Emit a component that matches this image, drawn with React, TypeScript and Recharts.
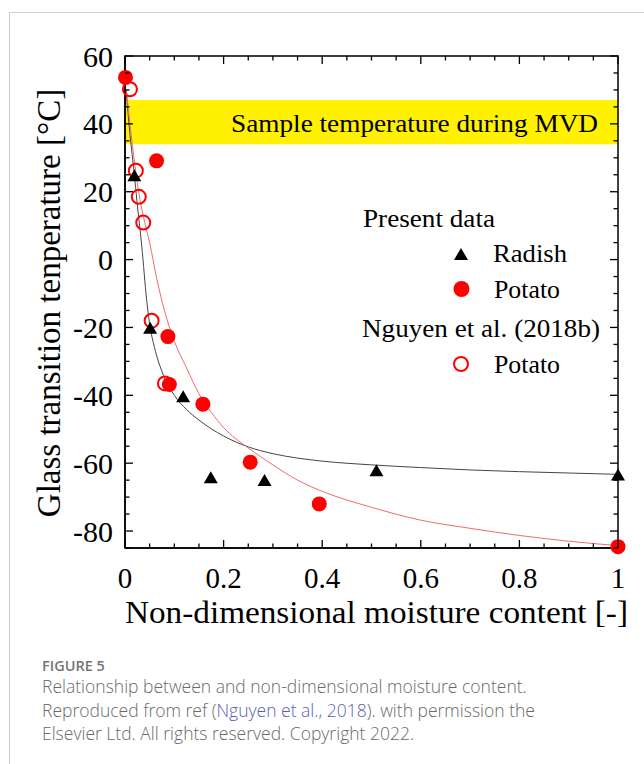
import React from 'react';
import { ComposedChart, XAxis, YAxis, Line, Scatter, ReferenceArea } from 'recharts';

// ---- tick values ----
const xMajorTicks = [0, 0.2, 0.4, 0.6, 0.8, 1];
const xMinorTicks = [0, 0.05, 0.1, 0.15, 0.2, 0.25, 0.3, 0.35, 0.4, 0.45, 0.5, 0.55, 0.6, 0.65, 0.7, 0.75, 0.8, 0.85, 0.9, 0.95, 1];
const yMajorTicks = [-80, -60, -40, -20, 0, 20, 40, 60];
const yMinorTicks = [-85, -80, -75, -70, -65, -60, -55, -50, -45, -40, -35, -30, -25, -20, -15, -10, -5, 0, 5, 10, 15, 20, 25, 30, 35, 40, 45, 50, 55, 60];

// ---- band ----
const bandLow = 34;
const bandHigh = 47;

// ---- data ----
const radish = [
  { x: 0.019, y: 24.7 }, { x: 0.051, y: -20.2 }, { x: 0.118, y: -40.4 }, { x: 0.174, y: -64.3 },
  { x: 0.283, y: -65.1 }, { x: 0.51, y: -62.2 }, { x: 1.0, y: -63.5 },
];
const potatoPresent = [
  { x: 0.001, y: 53.7 }, { x: 0.064, y: 29.1 }, { x: 0.087, y: -22.7 }, { x: 0.09, y: -36.8 },
  { x: 0.158, y: -42.6 }, { x: 0.254, y: -59.7 }, { x: 0.394, y: -72.0 }, { x: 1.0, y: -84.6 },
];
const potatoNguyen = [
  { x: 0.01, y: 50.2 }, { x: 0.022, y: 26.2 }, { x: 0.028, y: 18.5 }, { x: 0.037, y: 10.9 },
  { x: 0.054, y: -18.0 }, { x: 0.081, y: -36.5 },
];
const radishFit = [
  { x: 0.002, y: 50 }, { x: 0.01, y: 37 }, { x: 0.019, y: 25 }, { x: 0.024, y: 17.5 }, { x: 0.034, y: 4 },
  { x: 0.044, y: -12 }, { x: 0.05, y: -19 }, { x: 0.06, y: -26 }, { x: 0.075, y: -33 }, { x: 0.1, y: -40 },
  { x: 0.125, y: -44.2 }, { x: 0.15, y: -47.3 }, { x: 0.2, y: -52 }, { x: 0.25, y: -55.2 }, { x: 0.3, y: -57.2 },
  { x: 0.35, y: -58.5 }, { x: 0.4, y: -59.4 }, { x: 0.5, y: -60.5 }, { x: 0.6, y: -61.3 }, { x: 0.7, y: -62 },
  { x: 0.8, y: -62.5 }, { x: 0.9, y: -62.9 }, { x: 1.0, y: -63.3 },
];
const potatoFit = [
  { x: 0.003, y: 50 }, { x: 0.01, y: 40 }, { x: 0.02, y: 28 }, { x: 0.03, y: 18 }, { x: 0.04, y: 11 },
  { x: 0.05, y: 5 }, { x: 0.065, y: -6 }, { x: 0.08, y: -15 }, { x: 0.1, y: -24 }, { x: 0.125, y: -32 },
  { x: 0.15, y: -39.5 }, { x: 0.175, y: -45 }, { x: 0.2, y: -49.5 }, { x: 0.25, y: -55.5 }, { x: 0.3, y: -60.5 },
  { x: 0.35, y: -65 }, { x: 0.4, y: -68.3 }, { x: 0.5, y: -73 }, { x: 0.6, y: -76.8 }, { x: 0.7, y: -79.2 },
  { x: 0.8, y: -81.3 }, { x: 0.9, y: -83 }, { x: 1.0, y: -84.3 },
];

// ---- layout ----
const W = 644;
const H = 764;
const PLOT_LEFT = 125;
const PLOT_TOP = 56;
const PLOT_W = 493;
const PLOT_H = 492;
const Y_AXIS_W = 60;
const X_AXIS_H = 40;
const SERIF = '"Liberation Serif", "Times New Roman", Times, serif';
const SANS = '"Open Sans", "Noto Sans", sans-serif';
const RED = '#fe0000';

const isMajor = (v: number, list: number[]) => list.some((t) => Math.abs(t - v) < 1e-9);

function XTick(props: any) {
  const { x, y, payload } = props;
  const v = payload.value;
  const major = isMajor(v, xMajorTicks);
  const len = major ? 8 : 4.5;
  return (
    <g>
      <line x1={x} y1={y} x2={x} y2={y - len} stroke="#000" strokeWidth={1.3} />
      <line x1={x} y1={y - PLOT_H} x2={x} y2={y - PLOT_H + len} stroke="#000" strokeWidth={1.3} />
      {major && (
        <text x={x} y={y + 40} textAnchor="middle" fontSize={29} fontFamily={SERIF} fill="#000">
          {String(v)}
        </text>
      )}
    </g>
  );
}

function YTick(props: any) {
  const { x, y, payload } = props;
  const v = payload.value;
  const major = isMajor(v, yMajorTicks);
  const len = major ? 8 : 4.5;
  return (
    <g>
      <line x1={x} y1={y} x2={x + len} y2={y} stroke="#000" strokeWidth={1.3} />
      <line x1={x + PLOT_W} y1={y} x2={x + PLOT_W - len} y2={y} stroke="#000" strokeWidth={1.3} />
      {major && (
        <text x={x - 12} y={y + 10.5} textAnchor="end" fontSize={30} fontFamily={SERIF} fill="#000">
          {String(v)}
        </text>
      )}
    </g>
  );
}

const TriangleShape = (p: any) => (
  <polygon
    points={`${p.cx},${p.cy - 6.5} ${p.cx - 7},${p.cy + 5.5} ${p.cx + 7},${p.cy + 5.5}`}
    fill="#000"
  />
);
const FilledCircle = (p: any) => <circle cx={p.cx} cy={p.cy} r={7.5} fill={RED} />;
const OpenCircle = (p: any) => <circle cx={p.cx} cy={p.cy} r={7} fill="none" stroke={RED} strokeWidth={2} />;

export default function App() {
  return (
    <div style={{ position: 'absolute', left: 0, top: 0, width: W, height: H, background: '#fff', overflow: 'hidden' }}>
      {/* frame */}
      <div style={{ position: 'absolute', left: 9, top: 12, width: W - 9, height: H - 12, borderLeft: '1.5px solid #cfcfcf', borderTop: '1.5px solid #cfcfcf' }} />
      <div style={{ position: 'absolute', left: 0, top: 0 }}>
        <ComposedChart
          width={W}
          height={H}
          margin={{ top: PLOT_TOP, right: W - PLOT_LEFT - PLOT_W, bottom: H - PLOT_TOP - PLOT_H - X_AXIS_H, left: PLOT_LEFT - Y_AXIS_W }}
        >
          <XAxis
            dataKey="x"
            type="number"
            domain={[0, 1]}
            ticks={xMinorTicks}
            interval={0}
            tickSize={0}
            tickMargin={0}
            tickLine={false}
            tick={XTick}
            height={X_AXIS_H}
            axisLine={{ stroke: '#000', strokeWidth: 1.5 }}
          />
          <YAxis
            dataKey="y"
            type="number"
            domain={[-85, 60]}
            ticks={yMinorTicks}
            interval={0}
            tickSize={0}
            tickMargin={0}
            tickLine={false}
            tick={YTick}
            width={Y_AXIS_W}
            axisLine={{ stroke: '#000', strokeWidth: 1.5 }}
          />
          <ReferenceArea x1={0} x2={1} y1={bandLow} y2={bandHigh} fill="#fff100" fillOpacity={1} stroke="none" />
          <Line data={radishFit} dataKey="y" type="monotone" stroke="#444" strokeWidth={1} dot={false} isAnimationActive={false} />
          <Line data={potatoFit} dataKey="y" type="monotone" stroke="#f26a6a" strokeWidth={1} dot={false} isAnimationActive={false} />
          <ReferenceArea x1={0} x2={1} y1={-85} y2={60} fill="none" stroke="#000" strokeWidth={1.5} />
          <Scatter data={potatoNguyen} dataKey="y" shape={OpenCircle} isAnimationActive={false} />
          <Scatter data={potatoPresent} dataKey="y" shape={FilledCircle} isAnimationActive={false} />
          <Scatter data={radish} dataKey="y" shape={TriangleShape} isAnimationActive={false} />
        </ComposedChart>
      </div>
      {/* overlay texts */}
      <svg width={W} height={H} style={{ position: 'absolute', left: 0, top: 0, pointerEvents: 'none' }}>
        <text x={231} y={132} fontSize={26} fontFamily={SERIF} fill="#000" textLength={367} lengthAdjust="spacingAndGlyphs">
          Sample temperature during MVD
        </text>
        <text x={363} y={227} fontSize={25} fontFamily={SERIF} fill="#000" textLength={132} lengthAdjust="spacingAndGlyphs">
          Present data
        </text>
        <polygon points="461,248 454,260 468,260" fill="#000" />
        <text x={493} y={262} fontSize={25} fontFamily={SERIF} fill="#000" textLength={74} lengthAdjust="spacingAndGlyphs">
          Radish
        </text>
        <circle cx={461.5} cy={289} r={8} fill={RED} />
        <text x={494} y={298} fontSize={25} fontFamily={SERIF} fill="#000" textLength={66} lengthAdjust="spacingAndGlyphs">
          Potato
        </text>
        <text x={362} y={337} fontSize={25} fontFamily={SERIF} fill="#000" textLength={238} lengthAdjust="spacingAndGlyphs">
          Nguyen et al. (2018b)
        </text>
        <circle cx={461} cy={364} r={7} fill="none" stroke={RED} strokeWidth={2} />
        <text x={494} y={373} fontSize={25} fontFamily={SERIF} fill="#000" textLength={66} lengthAdjust="spacingAndGlyphs">
          Potato
        </text>
        <text x={125} y={623} fontSize={31} fontFamily={SERIF} fill="#000" textLength={503} lengthAdjust="spacingAndGlyphs">
          Non-dimensional moisture content [-]
        </text>
        <text
          x={60}
          y={303}
          fontSize={33}
          fontFamily={SERIF}
          fill="#000"
          textAnchor="middle"
          transform="rotate(-90 60 303)"
        >
          Glass transition tenperature [°C]
        </text>
      </svg>
      {/* caption */}
      <div style={{ position: 'absolute', left: 42, top: 658, fontFamily: SANS, fontSize: 14.5, fontWeight: 600, color: '#757575', lineHeight: '16px' }}>
        FIGURE 5
      </div>
      <div style={{ position: 'absolute', left: 42, top: 675, width: 595, fontFamily: SANS, fontSize: 17.5, fontWeight: 300, color: '#6a6a6a', lineHeight: '23.5px' }}>
        <div>Relationship between and non-dimensional moisture content.</div>
        <div>
          Reproduced from ref (<span style={{ color: '#5a5fb8' }}>Nguyen et al., 2018</span>). with permission the
        </div>
        <div>Elsevier Ltd. All rights reserved. Copyright 2022.</div>
      </div>
    </div>
  );
}
